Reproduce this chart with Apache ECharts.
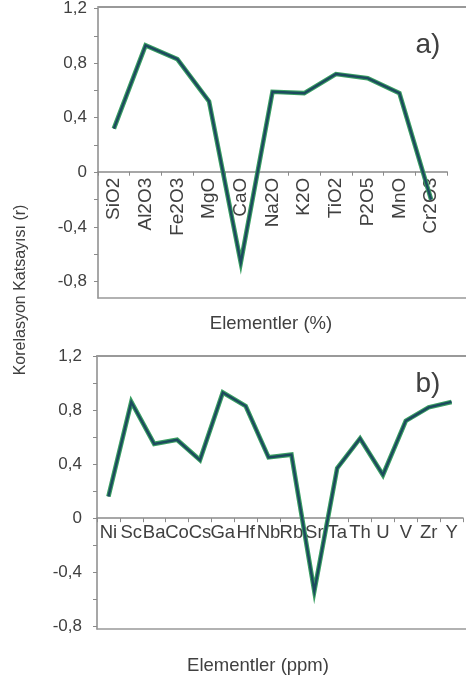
<!DOCTYPE html>
<html>
<head>
<meta charset="utf-8">
<script src="https://cdn.jsdelivr.net/npm/echarts@6/dist/echarts.min.js"></script>
<style>
  html, body { margin: 0; padding: 0; background: #fff; }
  #chart { width: 466px; height: 683px; }
</style>
</head>
<body>
<div id="chart"></div>
<script>
// Correlation coefficients (r) of major oxides (%) and trace elements (ppm)
const oxideNames = ['SiO2', 'Al2O3', 'Fe2O3', 'MgO', 'CaO', 'Na2O', 'K2O', 'TiO2', 'P2O5', 'MnO', 'Cr2O3'];
const oxideR = [0.32, 0.93, 0.83, 0.52, -0.66, 0.59, 0.58, 0.72, 0.69, 0.58, -0.2];

const traceNames = ['Ni', 'Sc', 'Ba', 'Co', 'Cs', 'Ga', 'Hf', 'Nb', 'Rb', 'Sr', 'Ta', 'Th', 'U', 'V', 'Zr', 'Y'];
const traceR = [0.16, 0.86, 0.55, 0.58, 0.43, 0.93, 0.83, 0.45, 0.47, -0.54, 0.37, 0.59, 0.32, 0.72, 0.82, 0.86];

const yLabelValues = [-0.8, -0.4, 0, 0.4, 0.8, 1.2];
const yTickValues = [-0.8, -0.6, -0.4, -0.2, 0, 0.2, 0.4, 0.6, 0.8, 1.0, 1.2];
const yMax = 1.2;
const yMinA = -0.92;
const yMinB = -0.82;

const FONT = 'Liberation Sans, Arial, sans-serif';
const TEXT = '#404040';
const AXIS = '#8a8a8a';

const fmt = v => String(Math.round(v * 10) / 10).replace('.', ',');

// panel boxes
const boxA = { left: 98, top: 7, width: 349, height: 291 };
const boxB = { left: 97, top: 356, width: 366, height: 273 };

// a grid whose bottom edge sits on the value 0 of the panel, carrying the category axis
function zeroGrid(box, min) {
  return { left: box.left, top: box.top, width: box.width, height: box.height * yMax / (yMax - min) };
}

function frameGrid(box) {
  return { left: box.left, top: box.top, right: -20, height: box.height };
}

function valueAxis(grid, min, margin) {
  return {
    type: 'value', gridIndex: grid, min: min, max: yMax,
    axisLine: { show: true, lineStyle: { color: AXIS, width: 1.5 } },
    axisTick: { show: true, length: 4, customValues: yTickValues, lineStyle: { color: AXIS, width: 1 } },
    axisLabel: { customValues: yLabelValues, formatter: fmt, color: TEXT, fontFamily: FONT, fontSize: 17, margin: margin },
    splitLine: { show: false }
  };
}

function hiddenCategory(grid, names) {
  return { type: 'category', gridIndex: grid, data: names, show: false };
}

function labelCategory(grid, names, labelOpts) {
  return {
    type: 'category', gridIndex: grid, data: names, position: 'bottom',
    axisLine: { onZero: false, lineStyle: { color: AXIS, width: 1.5 } },
    axisTick: { show: true, length: 4, lineStyle: { color: AXIS } },
    axisLabel: Object.assign({ interval: 0, color: TEXT, fontFamily: FONT, hideOverlap: false }, labelOpts)
  };
}

function frameX(grid, pos, width) {
  return {
    type: 'value', gridIndex: grid, position: pos, min: 0, max: 1,
    axisLine: { show: true, onZero: false, lineStyle: { color: '#999', width: width } },
    axisTick: { show: false }, axisLabel: { show: false }, splitLine: { show: false }
  };
}

function plainY(grid) {
  return { type: 'value', gridIndex: grid, min: 0, max: 1, show: false };
}

function lineSeries(xi, yi, data) {
  // green halo beneath a dark core line
  return [
    { type: 'line', xAxisIndex: xi, yAxisIndex: yi, data: data, symbol: 'none', silent: true,
      lineStyle: { color: '#3a9f62', width: 4.6, join: 'miter' }, z: 3 },
    { type: 'line', xAxisIndex: xi, yAxisIndex: yi, data: data, symbol: 'none', silent: true,
      lineStyle: { color: '#1c4a5e', width: 2.4, join: 'miter' }, z: 4 }
  ];
}

const chart = echarts.init(document.getElementById('chart'), null, { renderer: 'canvas' });

chart.setOption({
  animation: false,
  backgroundColor: '#ffffff',
  grid: [
    boxA,                   // 0 top data
    frameGrid(boxA),        // 1 top frame
    zeroGrid(boxA, yMinA),  // 2 top category axis
    boxB,                   // 3 bottom data
    frameGrid(boxB),        // 4 bottom frame
    zeroGrid(boxB, yMinB)   // 5 bottom category axis
  ],
  xAxis: [
    hiddenCategory(0, oxideNames),                              // 0
    frameX(1, 'top', 2),                                        // 1
    frameX(1, 'bottom', 1.5),                                   // 2
    labelCategory(2, oxideNames, { rotate: 90, fontSize: 19, margin: 6 }), // 3
    hiddenCategory(3, traceNames),                              // 4
    frameX(4, 'top', 2),                                        // 5
    frameX(4, 'bottom', 1.5),                                   // 6
    labelCategory(5, traceNames, { fontSize: 18.5, margin: 5 }) // 7
  ],
  yAxis: [
    valueAxis(0, yMinA, 11),  // 0
    plainY(1),                // 1
    plainY(2),                // 2
    valueAxis(3, yMinB, 15),  // 3
    plainY(4),                // 4
    plainY(5)                 // 5
  ],
  series: [
    ...lineSeries(0, 0, oxideR),
    ...lineSeries(4, 3, traceR)
  ],
  graphic: [
    { type: 'text', x: 428, y: 45, style: { text: 'a)', font: '28px ' + FONT, fill: TEXT, textAlign: 'center', textVerticalAlign: 'middle' } },
    { type: 'text', x: 428, y: 384, style: { text: 'b)', font: '28px ' + FONT, fill: TEXT, textAlign: 'center', textVerticalAlign: 'middle' } },
    { type: 'text', x: 271, y: 324, style: { text: 'Elementler (%)', font: '18.5px ' + FONT, fill: TEXT, textAlign: 'center', textVerticalAlign: 'middle' } },
    { type: 'text', x: 258, y: 666, style: { text: 'Elementler (ppm)', font: '18.5px ' + FONT, fill: TEXT, textAlign: 'center', textVerticalAlign: 'middle' } },
    { type: 'text', x: 21, y: 290, rotation: Math.PI / 2, style: { text: 'Korelasyon Katsayısı (r)', font: '16px ' + FONT, fill: TEXT, textAlign: 'center', textVerticalAlign: 'middle' } }
  ]
});
</script>
</body>
</html>
